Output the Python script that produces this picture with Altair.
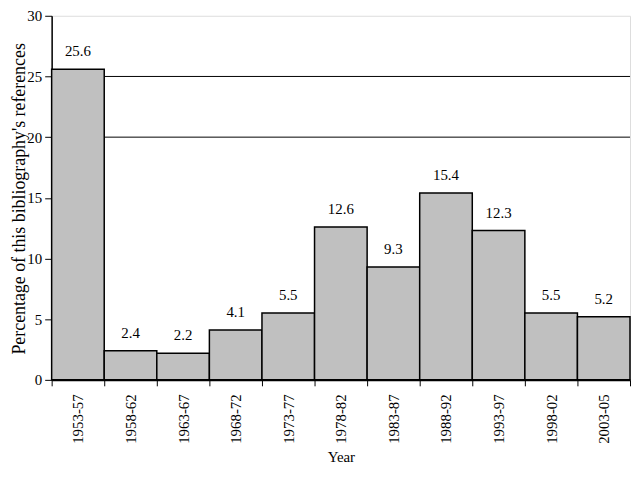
import altair as alt
import pandas as pd

periods = ["1953-57", "1958-62", "1963-67", "1968-72", "1973-77", "1978-82",
           "1983-87", "1988-92", "1993-97", "1998-02", "2003-05"]
values = [25.6, 2.4, 2.2, 4.1, 5.5, 12.6, 9.3, 15.4, 12.3, 5.5, 5.2]
grid_values = [20, 25]

df = pd.DataFrame({"period": periods, "value": values,
                   "label": [f"{v:.1f}" for v in values]})
gdf = pd.DataFrame({"y": grid_values})

FONT = "'Liberation Serif', 'Times New Roman', Times, serif"
H = 367

xenc = alt.X("period:N", sort=periods, title="Year",
             scale=alt.Scale(paddingInner=0, paddingOuter=0),
             axis=alt.Axis(labelAngle=270, labelAlign="right", labelBaseline="middle",
                           tickBand="extent", tickSize=6, labelPadding=8,
                           labelFontSize=15, titleFontSize=15, titlePadding=6,
                           domainWidth=2, domainColor="black", tickColor="black",
                           labelColor="black", titleColor="black", titleFontWeight="normal",
                           labelFont=FONT, titleFont=FONT, grid=False))
yscale = alt.Scale(domain=[0, 30], nice=False)

rules = alt.Chart(gdf).mark_rule(color="black", strokeWidth=1).encode(
    y=alt.Y("y:Q", scale=yscale),
    x=alt.value(0), x2=alt.value(583))

bars = alt.Chart(df).mark_bar(fill="#c0c0c0", stroke="black", strokeWidth=1.5).encode(
    x=xenc,
    y=alt.Y("value:Q", scale=yscale,
            title="Percentage of this bibliography's references",
            axis=alt.Axis(values=[0, 5, 10, 15, 20, 25, 30], grid=False, tickSize=7,
                          labelFontSize=15, titleFontSize=18, labelPadding=3,
                          titleAlign="left", titleBaseline="alphabetic",
                          titleX=-27, titleY=H - 26,
                          domainWidth=1.5, domainColor="black",
                          tickColor="black", labelColor="black", titleColor="black",
                          titleFontWeight="normal", labelFont=FONT, titleFont=FONT)))

text = alt.Chart(df).mark_text(font=FONT, fontSize=15, dy=-18, color="black").encode(
    x=alt.X("period:N", sort=periods),
    y=alt.Y("value:Q", scale=yscale),
    text="label:N")

chart = alt.layer(rules, bars, text).properties(
    width=583, height=H,
    autosize=alt.AutoSizeParams(type="none"),
    padding={"left": 44, "top": 6, "right": 2, "bottom": 87},
).configure_view(stroke="black", strokeWidth=2).configure(background="white")

chart.save("out.html", embed_options={"renderer": "svg", "actions": False})
